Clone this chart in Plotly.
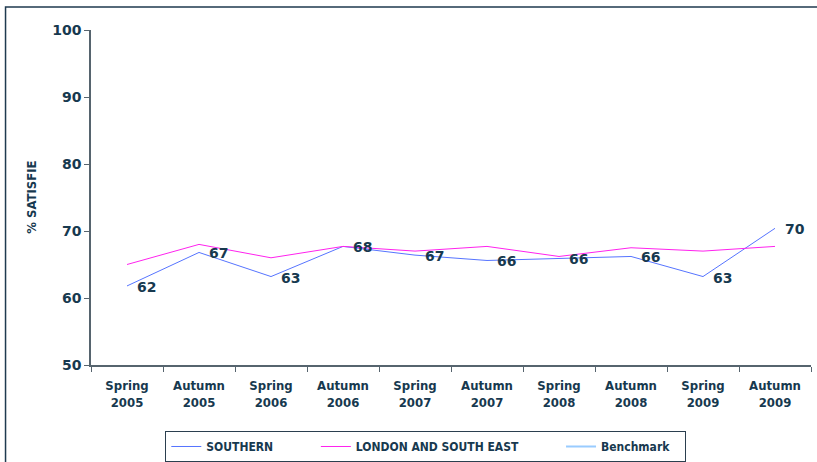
import plotly.graph_objects as go

# categories (survey waves)
waves = ["Spring<br>2005", "Autumn<br>2005", "Spring<br>2006", "Autumn<br>2006",
         "Spring<br>2007", "Autumn<br>2007", "Spring<br>2008", "Autumn<br>2008",
         "Spring<br>2009", "Autumn<br>2009"]

southern = [61.8, 66.8, 63.2, 67.7, 66.4, 65.6, 65.9, 66.2, 63.2, 70.4]
southern_labels = ["62", "67", "63", "68", "67", "66", "66", "66", "63", "70"]
london_se = [65.0, 68.0, 66.0, 67.7, 67.0, 67.7, 66.2, 67.5, 67.0, 67.7]
benchmark = [None] * len(waves)

navy = "#17394f"
bold_font = "DejaVu Sans"
cond_font = "DejaVu Sans Condensed, DejaVu Sans"
pad = "\u00a0" * 11

fig = go.Figure()

fig.add_trace(go.Scatter(
    x=waves, y=southern, mode="lines", name="<b>SOUTHERN</b>" + pad,
    line=dict(color="#5674ff", width=1),
))
fig.add_trace(go.Scatter(
    x=waves, y=london_se, mode="lines", name="<b>LONDON AND SOUTH EAST</b>" + pad,
    line=dict(color="#ff22ee", width=1),
))
fig.add_trace(go.Scatter(
    x=waves, y=benchmark, mode="lines", name="<b>Benchmark</b>\u00a0\u00a0\u00a0",
    line=dict(color="#99ccff", width=2),
))

# value labels to the right of each SOUTHERN point
labels = [dict(x=w, y=v, text="<b>" + t + "</b>", xref="x", yref="y",
               showarrow=False, xanchor="left", yanchor="middle", xshift=8, yshift=-1,
               font=dict(family=bold_font, size=14, color=navy))
          for w, v, t in zip(waves, southern, southern_labels)]

labels.append(dict(
    text="<b>% SATISFIE</b>", xref="paper", yref="paper",
    x=-0.083, y=0.5, xanchor="center", yanchor="middle",
    textangle=-90, showarrow=False,
    font=dict(family=cond_font, size=13, color=navy),
))

fig.update_layout(
    width=817, height=462,
    margin=dict(l=91, r=6, t=30, b=97, autoexpand=False),
    plot_bgcolor="white", paper_bgcolor="white",
    showlegend=True,
    legend=dict(
        orientation="h", x=0.465, xanchor="center", y=-0.197, yanchor="top",
        bordercolor="#2b3f4f", borderwidth=1,
        font=dict(family=cond_font, size=12, color=navy),
        itemwidth=30, tracegroupgap=0,
    ),
    xaxis=dict(
        range=[-0.5, len(waves) - 0.5],
        showline=True, linecolor="#56646e", linewidth=1.5,
        ticks="outside", ticklen=5, tickcolor="#56646e", tickson="boundaries",
        tickfont=dict(family=cond_font, size=13, color=navy),
        ticktext=["<b>" + w + "</b>" for w in waves], tickvals=waves,
        ticklabelstandoff=8,
        showgrid=False, automargin=False,
    ),
    yaxis=dict(
        range=[50, 100], dtick=10,
        showline=True, linecolor="#56646e", linewidth=1.5,
        ticks="outside", ticklen=5, tickcolor="#56646e",
        tickfont=dict(family=bold_font, size=14, color=navy),
        tickprefix="<b>", ticksuffix="</b>",
        showgrid=False, zeroline=False, automargin=False,
    ),
    annotations=labels,
    # outer frame, open on the right and bottom (runs off the page)
    shapes=[dict(
        type="rect", xref="paper", yref="paper",
        x0=-0.1187, x1=1.05, y0=-0.32, y1=1.0687,
        line=dict(color="#1f3a4f", width=1.5),
    )],
)

# drop the browser's default 8px body margin so the figure sits at the page corner
fig.write_html("out.html", config={"displayModeBar": False},
               post_script="document.body.style.margin='0';")
